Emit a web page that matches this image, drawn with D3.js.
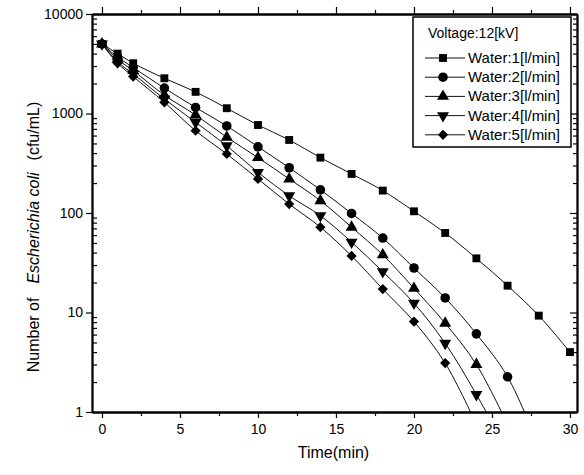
<!DOCTYPE html>
<html>
<head>
<meta charset="utf-8">
<script src="https://cdn.jsdelivr.net/npm/d3@7"></script>
<style>
  body { margin: 0; background: #fff; }
  svg { display: block; font-family: Arial, "Liberation Sans", sans-serif; }
</style>
</head>
<body>
<svg id="chart" width="584" height="475"></svg>
<script>
// time points (min) and survivors (cfu/mL)
const time   = [0, 1, 2, 4, 6, 8, 10, 12, 14, 16, 18, 20, 22, 24, 26, 28, 30]
const water1 = [5000, 4000, 3200, 2260, 1650, 1130, 766, 542, 360, 247, 168, 104, 63, 35, 18.6, 9.3, 4.0]
const water2 = [5000, 3700, 2900, 1800, 1150, 750, 463, 285, 171, 99, 56, 28, 14, 6.1, 2.26, 0.45, null]
const water3 = [5000, 3500, 2700, 1530, 966, 577, 360, 220, 133, 72, 38, 17.5, 7.8, 3.0, 0.75, null, null]
const water4 = [5000, 3300, 2500, 1400, 816, 474, 256, 149, 94, 51, 25.7, 12.4, 4.9, 1.5, 0.4, null, null]
const water5 = [5000, 3200, 2350, 1295, 671, 392, 220, 123, 72, 37, 17.2, 8.1, 3.1, 0.75, null, null, null]
const seriesNames = ['Water:1[l/min]', 'Water:2[l/min]', 'Water:3[l/min]', 'Water:4[l/min]', 'Water:5[l/min]']
const xTicks = [0, 5, 10, 15, 20, 25, 30]
const yTicks = [1, 10, 100, 1000, 10000]

const svg = d3.select('#chart')
const pLeft = 92, pRight = 577, pTop = 14, pBottom = 412

const x = d3.scaleLinear().domain([-0.64, 30.45]).range([pLeft, pRight])
const y = d3.scaleLog().domain([1, 10000]).range([pBottom, pTop])

const shapes = [
    {type: d3.symbolSquare, size: 62, rot: 0},
    {type: d3.symbolCircle, size: 72, rot: 0},
    {type: d3.symbolTriangle, size: 62, rot: 0},
    {type: d3.symbolTriangle, size: 62, rot: 180},
    {type: d3.symbolSquare, size: 52, rot: 45}
]

const series = [water1, water2, water3, water4, water5].map((vals, i) => ({
    name: seriesNames[i],
    shape: shapes[i],
    points: time.map((t, j) => ({x: t, y: vals[j]})).filter(d => d.y != null)
}))

svg.append('clipPath').attr('id', 'plot')
    .append('rect')
    .attr('x', pLeft).attr('y', pTop)
    .attr('width', pRight - pLeft).attr('height', pBottom - pTop)

const line = d3.line()
    .x(d => x(d.x))
    .y(d => y(d.y))
    .curve(d3.curveCatmullRom)

const plot = svg.append('g').attr('clip-path', 'url(#plot)')

series.forEach(s => {
    plot.append('path')
        .attr('d', line(s.points))
        .attr('fill', 'none')
        .attr('stroke', '#111')
        .attr('stroke-width', 1)
    plot.selectAll(null)
        .data(s.points.filter(d => d.y >= 1))
        .enter()
        .append('path')
            .attr('d', d3.symbol().type(s.shape.type).size(s.shape.size))
            .attr('transform', d => `translate(${x(d.x)},${y(d.y)}) rotate(${s.shape.rot})`)
            .attr('fill', '#000')
})

// axes
const minorX = d3.range(0, 30.1, 2.5).filter(v => v % 5 !== 0)
const minorY = []
for (let p = 0; p < 4; p++) for (let k = 2; k <= 9; k++) minorY.push(k * Math.pow(10, p))

const axisStyle = g => {
    g.select('.domain').attr('stroke', '#000').attr('stroke-width', 1.8)
    g.selectAll('.tick line').attr('stroke', '#000').attr('stroke-width', 1.2)
    g.selectAll('.tick text').attr('font-size', 14).attr('fill', '#000')
}

svg.append('g')
    .attr('transform', `translate(0,${pBottom})`)
    .call(d3.axisBottom(x).tickValues(xTicks).tickSize(6).tickPadding(6).tickSizeOuter(0))
    .call(axisStyle)
svg.append('g')
    .attr('transform', `translate(0,${pBottom})`)
    .call(d3.axisBottom(x).tickValues(minorX).tickSize(4).tickFormat('').tickSizeOuter(0))
    .call(axisStyle)
svg.append('g')
    .attr('transform', `translate(0,${pTop})`)
    .call(d3.axisTop(x).tickValues(xTicks).tickSize(7).tickFormat('').tickSizeOuter(0))
    .call(axisStyle)
svg.append('g')
    .attr('transform', `translate(0,${pTop})`)
    .call(d3.axisTop(x).tickValues(minorX).tickSize(4).tickFormat('').tickSizeOuter(0))
    .call(axisStyle)

svg.append('g')
    .attr('transform', `translate(${pLeft},0)`)
    .call(d3.axisLeft(y).tickValues(yTicks).tickFormat(d3.format('d')).tickSize(6).tickPadding(3).tickSizeOuter(0))
    .call(axisStyle)
svg.append('g')
    .attr('transform', `translate(${pLeft},0)`)
    .call(d3.axisRight(y).tickValues(minorY).tickSize(5).tickFormat('').tickSizeOuter(0))
    .call(axisStyle)
svg.append('g')
    .attr('transform', `translate(${pRight},0)`)
    .call(d3.axisLeft(y).tickValues(yTicks).tickSize(7).tickFormat('').tickSizeOuter(0))
    .call(axisStyle)
svg.append('g')
    .attr('transform', `translate(${pRight},0)`)
    .call(d3.axisLeft(y).tickValues(minorY).tickSize(4).tickFormat('').tickSizeOuter(0))
    .call(axisStyle)

// axis titles
svg.append('text')
    .attr('x', (pLeft + pRight) / 2 - 1).attr('y', 458)
    .attr('text-anchor', 'middle')
    .attr('font-size', 16)
    .text('Time(min)')

const yTitle = svg.append('text')
    .attr('transform', 'translate(39,237) rotate(-90)')
    .attr('text-anchor', 'middle')
    .attr('font-size', 16)
yTitle.append('tspan').text('Number of')
yTitle.append('tspan').attr('dx', 14).attr('font-style', 'italic').text('Escherichia coli')
yTitle.append('tspan').attr('dx', 12).text('(cfu/mL)')

// legend
const lg = svg.append('g').attr('transform', 'translate(413,17)')
lg.append('rect')
    .attr('width', 158).attr('height', 130)
    .attr('fill', '#fff').attr('stroke', '#000').attr('stroke-width', 1.5)
lg.append('text')
    .attr('x', 15).attr('y', 21)
    .attr('font-size', 14)
    .text('Voltage:12[kV]')
series.forEach((s, i) => {
    const ly = 41 + i * 19.2
    lg.append('line')
        .attr('x1', 12).attr('x2', 52)
        .attr('y1', ly).attr('y2', ly)
        .attr('stroke', '#111')
    lg.append('path')
        .attr('d', d3.symbol().type(s.shape.type).size(s.shape.size))
        .attr('transform', `translate(30,${ly}) rotate(${s.shape.rot})`)
    lg.append('text')
        .attr('x', 55).attr('y', ly + 5)
        .attr('font-size', 15)
        .text(s.name)
})
</script>
</body>
</html>
